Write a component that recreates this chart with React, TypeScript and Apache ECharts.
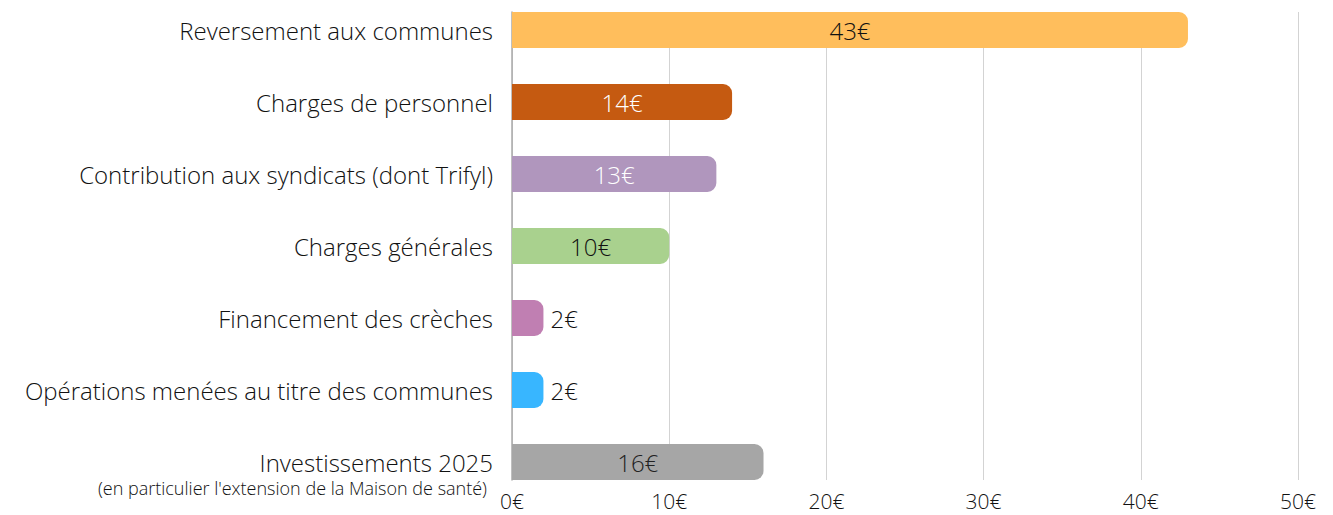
import React, { useEffect, useRef } from "react";
import * as echarts from "echarts";

const categories = [
  "Reversement aux communes",
  "Charges de personnel",
  "Contribution aux syndicats (dont Trifyl)",
  "Charges générales",
  "Financement des crèches",
  "Opérations menées au titre des communes",
  "Investissements 2025",
];
const lastSubtitle = "(en particulier l'extension de la Maison de santé)";
const values = [43, 14, 13, 10, 2, 2, 16];
const barColors = ["#FFBE5C", "#C55A11", "#B096BD", "#A9D18E", "#C07FB2", "#38B6FF", "#A6A6A6"];
const labelColors = ["#111", "#fff", "#fff", "#111", "#111", "#111", "#222"];
const labelPositions = ["inside", "inside", "inside", "inside", "right", "right", "inside"];
const xTicks = { min: 0, max: 50, interval: 10 };

const FONT = "'Open Sans', 'Noto Sans', sans-serif";
const W = 300;

export default function App() {
  const ref = useRef<HTMLDivElement>(null);
  useEffect(() => {
    document.body.style.margin = "0";
    if (!ref.current) return;
    const chart = echarts.init(ref.current, undefined, { renderer: "svg" });
    chart.setOption({
      animation: false,
      textStyle: { fontFamily: FONT, fontWeight: W },
      grid: [
        { left: 512, right: 35, top: 30, bottom: 53 },
        { left: 512, right: 35, top: 12, bottom: 35 },
      ],
      xAxis: [
        {
          gridIndex: 0,
          type: "value",
          min: xTicks.min,
          max: xTicks.max,
          interval: xTicks.interval,
          show: false,
          splitLine: { show: false },
        },
        {
          gridIndex: 1,
          type: "value",
          min: xTicks.min,
          max: xTicks.max,
          interval: xTicks.interval,
          axisLine: { show: false },
          axisTick: { show: false },
          splitLine: { show: true, lineStyle: { color: "#d3d3d3", width: 1 } },
          axisLabel: {
            formatter: "{value}€",
            fontSize: 21,
            lineHeight: 20,
            color: "#111",
            margin: 11,
            fontFamily: FONT,
            fontWeight: W,
          },
        },
      ],
      yAxis: [
        {
          gridIndex: 0,
          type: "category",
          data: categories,
          inverse: true,
          boundaryGap: false,
          axisLine: { show: false },
          axisTick: { show: false },
          splitLine: { show: false },
          axisLabel: {
            margin: 19,
            color: "#111",
            fontFamily: FONT,
            formatter: (v: string) =>
              v === categories[categories.length - 1]
                ? `{s| }\n{a|${v}}\n{b|${lastSubtitle}}`
                : `{a|${v}}`,
            rich: {
              s: { fontSize: 2, lineHeight: 26 },
              a: { fontSize: 24, lineHeight: 26, color: "#111", fontFamily: FONT, fontWeight: W, align: "right" },
              b: {
                fontSize: 18,
                lineHeight: 26,
                color: "#111",
                fontFamily: FONT,
                fontWeight: W,
                align: "right",
                padding: [0, 6, 0, 0],
              },
            },
          },
        },
        {
          gridIndex: 1,
          type: "value",
          min: 0,
          max: 1,
          axisLine: { show: true, onZero: false, lineStyle: { color: "#aaaaaa", width: 1.5 } },
          axisTick: { show: false },
          axisLabel: { show: false },
          splitLine: { show: false },
        },
      ],
      series: [
        {
          type: "bar",
          xAxisIndex: 0,
          yAxisIndex: 0,
          barWidth: 36,
          z: 5,
          data: values.map((v, i) => ({
            value: v,
            itemStyle: { color: barColors[i], borderRadius: [0, 9, 9, 0] },
            label: {
              show: true,
              position: labelPositions[i],
              distance: 7,
              formatter: "{c}€",
              fontSize: 24,
              color: labelColors[i],
              fontFamily: FONT,
              fontWeight: W,
            },
          })),
        },
      ],
    });
    return () => chart.dispose();
  }, []);
  return <div ref={ref} style={{ width: 1333, height: 515 }} />;
}
